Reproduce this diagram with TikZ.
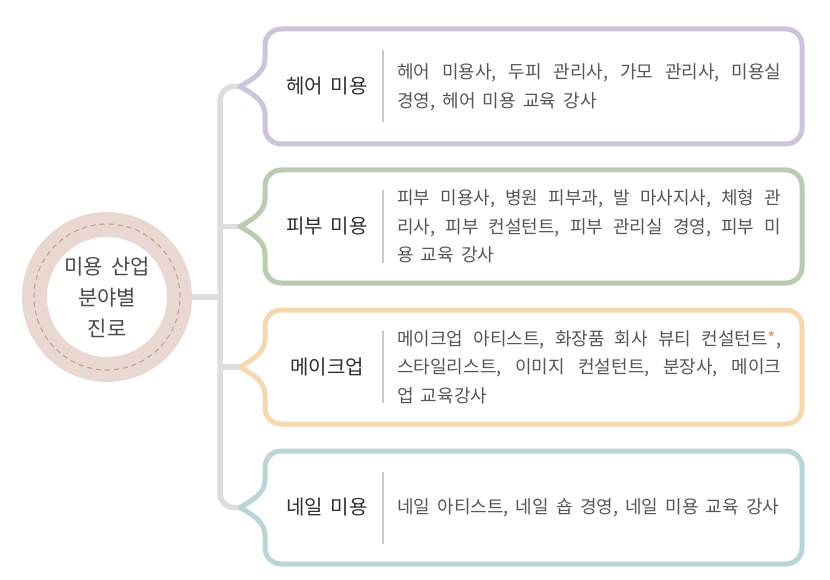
\documentclass[tikz,border=0pt]{standalone}
\usepackage{fontspec}
\setmainfont{Noto Sans CJK KR}
\definecolor{trunkc}{HTML}{DDDDDD}
\definecolor{ringc}{HTML}{E9D8D2}
\definecolor{dashc}{HTML}{C4A39B}
\definecolor{hairc}{HTML}{CDC3DA}
\definecolor{skinc}{HTML}{B9CBB0}
\definecolor{makec}{HTML}{F6D8AE}
\definecolor{nailc}{HTML}{B9D5D8}
\definecolor{labc}{HTML}{2F2F2F}
\definecolor{descc}{HTML}{555555}
\definecolor{hubtc}{HTML}{4A4A4A}
\definecolor{divc}{HTML}{C8C8C8}
\definecolor{starc}{HTML}{F08A6A}
\newcommand\descfont{\fontsize{18}{28.5}\selectfont}
\newcommand\labfont{\fontsize{20}{24}\selectfont}
\newcommand\hubfont{\fontsize{21}{31}\selectfont}
% stretchable space (justified lines) and fixed space (other lines)
\newcommand\J{\hskip 0.25em plus 1fil\relax}
\newcommand\K{\hskip 0.4em\relax}
\newcommand\jline[1]{\leavevmode\hbox to 384pt{#1}}
% notched box: #1 colour, #2 top, #3 middle, #4 bottom
\newcommand\notchbox[4]{%
  \draw[boxline, draw=#1] (265,#3-28)
    -- (265,#2+16) .. controls (265,#2+7.16) and (272.16,#2) .. (281,#2)
    -- (786,#2) .. controls (794.84,#2) and (802,#2+7.16) .. (802,#2+16)
    -- (802,#4-16) .. controls (802,#4-7.16) and (794.84,#4) .. (786,#4)
    -- (281,#4) .. controls (272.16,#4) and (265,#4-7.16) .. (265,#4-16)
    -- (265,#3+28)
    .. controls (265,#3+14) and (252,#3+7) .. (240,#3)
    .. controls (252,#3-7) and (265,#3-14) .. (265,#3-28) -- cycle;
  \draw[divider] (383,#3-36) -- (383,#3+36);
}
\tikzset{
  boxline/.style={line width=5pt, line join=round, fill=white},
  trunk/.style={draw=trunkc, line width=5.5pt},
  divider/.style={draw=divc, line width=1.2pt},
  lab/.style={font=\labfont, text=labc, inner sep=0pt},
  desc/.style={font=\descfont, text=descc, inner sep=0pt, anchor=west, text width=384pt, align=left},
}
\begin{document}
\begin{tikzpicture}[x=1pt, y=-1pt]
\useasboundingbox (0,0) rectangle (830,580);
% connector coordinates
\coordinate (tip1) at (241,86.5);
\coordinate (tip2) at (241,226.5);
\coordinate (tip3) at (241,367);
\coordinate (tip4) at (241,507.5);
\coordinate (tr1) at (220,86.5);
\coordinate (tr2) at (220,226.5);
\coordinate (tr3) at (220,367);
\coordinate (tr4) at (220,507.5);
\coordinate (trm) at (220,297);
% hub
\node[circle, draw=ringc, line width=25pt, minimum size=145pt, fill=white,
      font=\hubfont, text=hubtc, align=center, inner sep=0pt] (hub) at (107,297)
      {미용\K 산업\\분야별\\진로};
\draw[draw=dashc, line width=1.1pt, dash pattern=on 5pt off 4pt] (hub.center) circle (73pt);
% trunk
\draw[trunk, rounded corners=14pt] (tip1) -- (tr1) -- (tr4) -- (tip4);
\draw[trunk] (tr2) -- (tip2);
\draw[trunk] (tr3) -- (tip3);
\draw[trunk] (hub.east) -- (trm);
% boxes
\notchbox{hairc}{29}{86.5}{144}
\notchbox{skinc}{170}{226.5}{283}
\notchbox{makec}{310}{367}{424}
\notchbox{nailc}{451}{507.5}{564}
% labels
\node[lab] (l1) at (327,86.5) {헤어\K 미용};
\node[lab] (l2) at (327,226.5) {피부\K 미용};
\node[lab] (l3) at (327,367) {메이크업};
\node[lab] (l4) at (327,507.5) {네일\K 미용};
% descriptions
\node[desc] (d1) at (397,87.5) {\jline{헤어\J 미용사,\J 두피\J 관리사,\J 가모\J 관리사,\J 미용실}\\경영,\K 헤어\K 미용\K 교육\K 강사};
\node[desc] (d2) at (397,226.5) {\jline{피부\J 미용사,\J 병원\J 피부과,\J 발\J 마사지사,\J 체형\J 관}\\\jline{리사,\J 피부\J 컨설턴트,\J 피부\J 관리실\J 경영,\J 피부\J 미}\\용\K 교육\K 강사};
\node[desc] (d3) at (397,367) {\jline{메이크업\J 아티스트,\J 화장품\J 회사\J 뷰티\J 컨설턴트{\color{starc}*},}\\\jline{스타일리스트,\J 이미지\J 컨설턴트,\J 분장사,\J 메이크}\\업\K 교육강사};
\node[desc] (d4) at (397,507.5) {네일\K 아티스트,\K 네일\K 숍\K 경영,\K 네일\K 미용\K 교육\K 강사};
\end{tikzpicture}
\end{document}
